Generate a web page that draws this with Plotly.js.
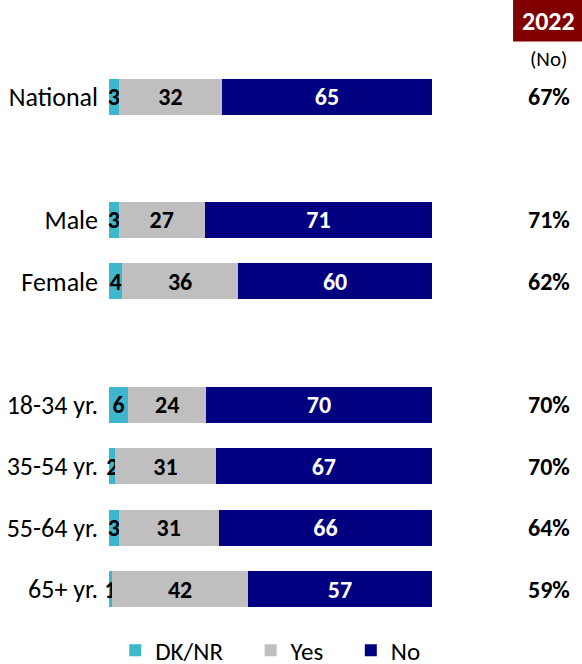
<!DOCTYPE html>
<html>
<head>
<meta charset="utf-8">
<script src="https://cdn.plot.ly/plotly-3.0.1.min.js"></script>
<style>html,body{margin:0;padding:0;background:#fff;}#chart{width:582px;height:664px;}</style>
</head>
<body>
<div id="chart"></div>
<script>
var categories = ['National','Male','Female','18-34 yr.','35-54 yr.','55-64 yr.','65+ yr.'];
var axisOrder = ['National',' ','Male','Female','  ','18-34 yr.','35-54 yr.','55-64 yr.','65+ yr.'];
var dknr = [3,3,4,6,2,3,1];
var yes = [32,27,36,24,31,31,42];
var no = [65,71,60,70,67,66,57];
var no2022 = [67,71,62,70,70,64,59];
var seriesNames = ['DK/NR','Yes','No'];
var headerYear = '2022';
var headerSub = '(No)';

var FONT = 'Carlito, Calibri, Lato, "Liberation Sans", sans-serif';
var PAD = '\u00A0\u00A0\u00A0\u00A0';
function tr(name, vals, color, textColor){
  return {
    type:'bar', orientation:'h', name:name, y:categories, x:vals,
    text: vals.map(String), textposition:'inside', insidetextanchor:'middle',
    textangle:0, constraintext:'none', cliponaxis:false,
    textfont:{family:FONT, size:24, color:textColor, weight:'bold'},
    marker:{color:color}, width:0.585, hoverinfo:'skip'
  };
}
var data = [
  tr(seriesNames[0] + PAD, dknr, '#3DB7CE', '#000'),
  tr(seriesNames[1] + PAD, yes, '#BFBFBF', '#000'),
  tr(seriesNames[2], no, '#000080', '#fff')
];
var annotations = categories.map(function(c,i){
  return {xref:'paper', yref:'y', x:1.362, y:c, text:'<b>'+no2022[i]+'%</b>', showarrow:false,
    font:{family:FONT, size:24, color:'#000'}, xanchor:'center'};
});
annotations.push({xref:'paper', yref:'paper', x:1.362, y:1.082, text:'<b>'+headerYear+'</b>', showarrow:false,
  font:{family:FONT, size:26, color:'#fff'}, xanchor:'center', yanchor:'middle'});
annotations.push({xref:'paper', yref:'paper', x:1.362, y:1.012, text:headerSub, showarrow:false,
  font:{family:FONT, size:21, color:'#000'}, xanchor:'center', yanchor:'middle'});
var layout = {
  width:582, height:664, barmode:'stack', barnorm:'percent', showlegend:true,
  margin:{l:109, r:150, t:66, b:44, autoexpand:false},
  paper_bgcolor:'#fff', plot_bgcolor:'#fff',
  font:{family:FONT, size:20, color:'#000'},
  xaxis:{range:[0,100], visible:false, fixedrange:true},
  yaxis:{type:'category', categoryorder:'array', categoryarray:axisOrder, range:[8.5,-0.5],
    showgrid:false, zeroline:false, showline:false, ticks:'', ticklabelstandoff:10,
    tickfont:{family:FONT, size:26, color:'#000'}},
  uniformtext:{mode:'show', minsize:24},
  legend:{orientation:'h', xref:'container', x:0.198, xanchor:'left', yref:'paper', y:-0.055, yanchor:'middle',
    font:{family:FONT, size:25, color:'#000'}, traceorder:'normal', itemwidth:30},
  shapes:[{type:'rect', xref:'paper', yref:'paper', x0:1.251, x1:1.47, y0:1.044, y1:1.125,
    fillcolor:'#800000', line:{width:0}}],
  annotations:annotations
};
Plotly.newPlot('chart', data, layout, {displayModeBar:false, staticPlot:true});
</script>
</body>
</html>
